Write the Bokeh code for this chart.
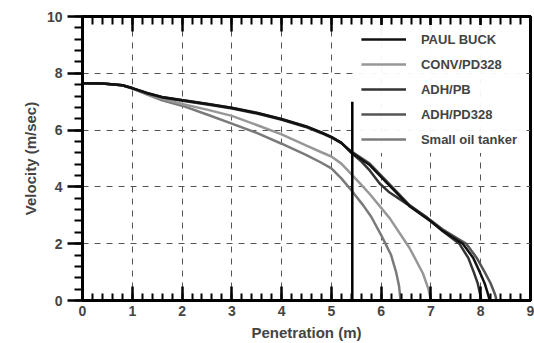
from bokeh.plotting import figure
from bokeh.models import (LinearAxis, SingleIntervalTicker, Range1d, Legend, LegendItem,
                          CustomJSTickFormatter)
from bokeh.embed import file_html
from bokeh.resources import INLINE

# ---- data ----
paul_buck_x = [0, 0.4, 0.8, 1.0, 1.3, 1.6, 2.0, 2.5, 3.0, 3.5, 4.0, 4.5, 4.8, 5.0, 5.2, 5.4,
               5.77, 6.11, 6.57, 7.0, 7.24, 7.64, 7.85, 7.98, 8.08, 8.15, 8.18]
paul_buck_v = [7.65, 7.64, 7.58, 7.48, 7.3, 7.16, 7.05, 6.92, 6.78, 6.6, 6.38, 6.12, 5.91, 5.75, 5.55, 5.22,
               4.77, 4.15, 3.32, 2.78, 2.45, 2.0, 1.5, 1.0, 0.6, 0.2, 0.0]

adh_pb_x = [0, 0.4, 0.8, 1.0, 1.3, 1.6, 2.0, 2.5, 3.0, 3.5, 4.0, 4.5, 4.8, 5.0, 5.2, 5.4,
            5.6, 5.77, 5.97, 6.17, 6.5, 6.9, 7.24, 7.57, 7.75, 7.86, 7.94, 7.99, 8.01]
adh_pb_v = [7.65, 7.64, 7.58, 7.48, 7.31, 7.17, 7.06, 6.93, 6.79, 6.61, 6.39, 6.13, 5.92, 5.76, 5.56, 5.2,
            4.9, 4.58, 4.12, 3.8, 3.42, 2.95, 2.44, 2.0, 1.5, 1.0, 0.6, 0.2, 0.0]

adh_pd328_x = [0, 0.4, 0.8, 1.0, 1.3, 1.6, 2.0, 2.5, 3.0, 3.5, 4.0, 4.5, 4.8, 5.0, 5.2, 5.4,
               5.77, 6.11, 6.57, 7.0, 7.24, 7.71, 7.92, 8.08, 8.2, 8.29, 8.32]
adh_pd328_v = [7.65, 7.64, 7.58, 7.47, 7.29, 7.15, 7.03, 6.9, 6.76, 6.58, 6.36, 6.1, 5.89, 5.74, 5.54, 5.25,
               4.82, 4.2, 3.36, 2.82, 2.5, 2.0, 1.5, 1.0, 0.6, 0.2, 0.0]

conv_pd328_x = [0, 0.4, 0.8, 1.0, 1.3, 1.6, 2.0, 2.5, 3.0, 3.5, 4.0, 4.5, 4.8, 5.0, 5.2, 5.4,
                5.57, 5.77, 6.17, 6.57, 6.84, 6.95, 7.0]
conv_pd328_v = [7.65, 7.64, 7.58, 7.47, 7.27, 7.1, 6.92, 6.72, 6.5, 6.18, 5.85, 5.45, 5.22, 5.07, 4.82, 4.45,
                4.13, 3.75, 2.9, 1.85, 0.95, 0.4, 0.0]

tanker_x = [0, 0.4, 0.8, 1.0, 1.3, 1.6, 2.0, 2.5, 3.0, 3.5, 4.0, 4.5, 4.8, 5.0, 5.2, 5.4,
            5.64, 5.8, 6.0, 6.2, 6.3, 6.36, 6.39]
tanker_v = [7.65, 7.64, 7.58, 7.46, 7.25, 7.05, 6.86, 6.55, 6.23, 5.9, 5.52, 5.12, 4.85, 4.65, 4.3, 3.88,
            3.35, 2.95, 2.3, 1.6, 1.0, 0.5, 0.0]

marker_x = [5.42, 5.42]
marker_v = [0, 7.0]

labels = ["PAUL BUCK", "CONV/PD328", "ADH/PB", "ADH/PD328", "Small oil tanker"]

FONT = "Liberation Sans"

p = figure(width=534, height=343, x_range=Range1d(0, 9), y_range=Range1d(0, 10),
           output_backend="svg", toolbar_location=None,
           min_border_left=82, min_border_right=4, min_border_top=16, min_border_bottom=0)
p.outline_line_color = "black"
p.outline_line_width = 3

def style_axis(ax, tick_in, tick_out, minor_in, minor_out):
    ax.axis_line_width = 3
    ax.axis_line_color = "black"
    ax.major_tick_in = tick_in
    ax.major_tick_out = tick_out
    ax.minor_tick_in = minor_in
    ax.minor_tick_out = minor_out
    ax.major_tick_line_width = 2.5
    ax.minor_tick_line_width = 2
    ax.major_tick_line_color = "black"
    ax.minor_tick_line_color = "black"
    ax.major_label_text_font = FONT
    ax.major_label_text_font_style = "bold"

xb = p.xaxis[0]
xb.ticker = SingleIntervalTicker(interval=1, num_minor_ticks=5)
style_axis(xb, 14, 0, 7, 0)
xb.major_label_text_font_size = "14px"
xb.axis_label = "Penetration (m)"
xb.axis_label_text_font = FONT
xb.axis_label_text_font_style = "bold"
xb.axis_label_text_font_size = "15px"

yl = p.yaxis[0]
yl.ticker = SingleIntervalTicker(interval=2, num_minor_ticks=5)
style_axis(yl, 0, 15, 0, 8)
yl.major_label_text_font_size = "14px"
yl.axis_label = "Velocity (m/sec)"
yl.axis_label_text_font = FONT
yl.axis_label_text_font_style = "bold"
yl.axis_label_text_font_size = "15px"

xt = LinearAxis(ticker=SingleIntervalTicker(interval=1, num_minor_ticks=5),
                formatter=CustomJSTickFormatter(code="return ''"))
style_axis(xt, 15, 0, 8, 0)
p.add_layout(xt, "above")

for g in (p.xgrid[0], p.ygrid[0]):
    g.grid_line_color = "#555555"
    g.grid_line_dash = "6 6"

lw = 2.5
r_tanker = p.line(tanker_x, tanker_v, line_color="#7a7a7a", line_width=lw)
r_conv = p.line(conv_pd328_x, conv_pd328_v, line_color="#979797", line_width=lw)
r_pd = p.line(adh_pd328_x, adh_pd328_v, line_color="#555555", line_width=lw)
r_pb = p.line(adh_pb_x, adh_pb_v, line_color="#333333", line_width=lw)
r_paul = p.line(paul_buck_x, paul_buck_v, line_color="#111111", line_width=lw)
p.line(marker_x, marker_v, line_color="black", line_width=lw)

legend = Legend(items=[
    LegendItem(label=labels[0], renderers=[r_paul]),
    LegendItem(label=labels[1], renderers=[r_conv]),
    LegendItem(label=labels[2], renderers=[r_pb]),
    LegendItem(label=labels[3], renderers=[r_pd]),
    LegendItem(label=labels[4], renderers=[r_tanker]),
], location="top_right")
legend.border_line_alpha = 0
legend.label_text_font = FONT
legend.label_text_font_style = "bold"
legend.label_text_font_size = "13px"
legend.glyph_width = 45
legend.label_standoff = 15
legend.spacing = 5
legend.padding = 4
legend.margin = 9
p.add_layout(legend)

open("out.html", "w").write(file_html(p, INLINE))
